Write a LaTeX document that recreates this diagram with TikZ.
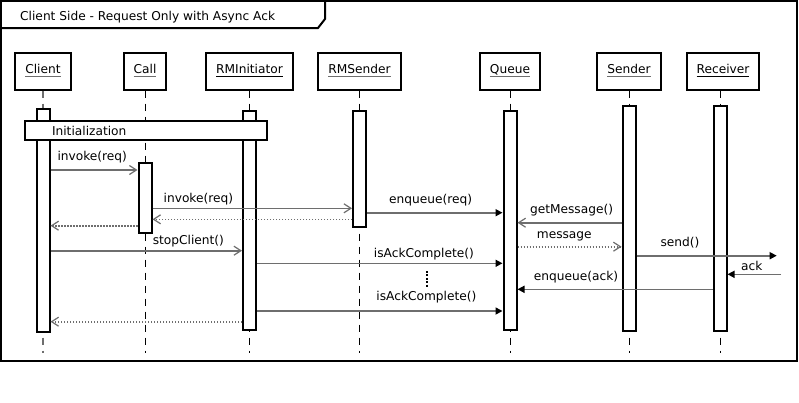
\documentclass[tikz,border=0pt]{standalone}
\usepackage{fontspec}
\setmainfont{DejaVu Sans}
\usetikzlibrary{arrows.meta,positioning}
\definecolor{msggray}{HTML}{6E6E6E}
\newsavebox\lnbox
\newcommand{\lifename}[2][msggray]{\sbox\lnbox{#2}\rlap{\textcolor{#1}{\rule[-3.5pt]{\wd\lnbox}{1.6pt}}}\usebox\lnbox}

\begin{document}
\begin{tikzpicture}[x=1pt,y=-1pt,
    every node/.style={font=\fontsize{12.2pt}{14pt}\selectfont},
    head/.style={draw,line width=2pt,fill=white,minimum height=37pt,inner xsep=10pt},
    actbar/.style={draw,line width=2pt,fill=white,minimum width=13pt,inner sep=0pt},
    lifeline/.style={line width=1pt,dash pattern=on 7pt off 6pt},
    msg/.style={draw=msggray,line width=1.6pt,-{Straight Barb[length=7pt,width=9pt,line width=1.2pt]}},
    amsg/.style={draw=msggray,line width=1.6pt,-{Triangle[length=7pt,width=7pt,color=black]}},
    ret/.style={msg,dash pattern=on 1.5pt off 1.5pt},
    lbl/.style={inner sep=0pt,above}]
    \useasboundingbox (0,0) rectangle (799,402);
    \fill[white] (0,0) rectangle (799,402);

    % frame
    \draw[line width=2pt] (1,1) rectangle (797,361);
    \draw[line width=2pt] (1,28) -- (318,28) -- (325,19) -- (325,1);
    \node[anchor=base west,inner sep=0pt] (title) at (20,20) {Client Side - Request Only with Async Ack};

    % lifelines
    \node[head] (client) at (43,71)                                {\lifename{Client}};
    \node[head] (call)     [right of=client,node distance=102pt]   {\lifename{Call}};
    \node[head] (rmi)      [right of=call,node distance=104.5pt]   {\lifename[black]{RMInitiator}};
    \node[head] (rms)      [right of=rmi,node distance=110pt]      {\lifename{RMSender}};
    \node[head] (queue)    [right of=rms,node distance=150.5pt]    {\lifename{Queue}};
    \node[head] (sender)   [right of=queue,node distance=119pt]    {\lifename{Sender}};
    \node[head] (receiver) [right of=sender,node distance=94pt]    {\lifename[black]{Receiver}};

    \draw[lifeline,draw=msggray,line width=1.5pt] (client.south) -- (client |- 0,353);
    \foreach \n in {call,rmi,rms,queue,sender}
        \draw[lifeline] (\n.south) -- (\n |- 0,353);
    \draw[lifeline] ([xshift=-3pt]receiver.south) -- ([xshift=-3pt]receiver.south |- 0,353);

    % activations
    \node[actbar,minimum height=223pt] (aclient)   at (client |- 0,220.5)   {};
    \node[actbar,minimum height=70pt]  (acall)     at (call |- 0,198)       {};
    \node[actbar,minimum height=219pt] (armi)      at (rmi |- 0,220.5)      {};
    \node[actbar,minimum height=116pt] (arms)      at (rms |- 0,169)        {};
    \node[actbar,minimum height=219pt] (aqueue)    at (queue |- 0,220.5)    {};
    \node[actbar,minimum height=225pt] (asender)   at (sender |- 0,218.3)   {};
    \node[actbar,minimum height=225pt,xshift=-3pt] (areceiver) at (receiver |- 0,218.3) {};

    \node[draw,line width=2pt,fill=white,anchor=west,minimum height=19pt,inner xsep=27pt,
          inner ysep=0pt,text width=188pt,align=left] (init) at (24,130.5) {Initialization};

    % messages
    \coordinate (sendend) at (776.7,255.7);
    \coordinate (ackstart) at (781,274.3);
    \draw[msg] (aclient.east |- 0,170) -- node[lbl,pos=.48,yshift=6.5pt] {invoke(req)} (acall.west |- 0,170);
    \draw[msg] (acall.east |- 0,208.3) -- node[lbl,pos=.23,yshift=2.6pt] {invoke(req)} (arms.west |- 0,208.3);
    \draw[amsg] (arms.east |- 0,212.7) -- node[lbl,pos=.47,yshift=6pt] {enqueue(req)} (aqueue.west |- 0,212.7);
    \draw[ret] (arms.west |- 0,219.3) -- (acall.east |- 0,219.3);
    \draw[ret] (acall.west |- 0,225.7) -- (aclient.east |- 0,225.7);
    \draw[msg] (asender.west |- 0,222.7) -- node[lbl,pos=.48,yshift=6pt] {getMessage()} (aqueue.east |- 0,222.7);
    \draw[ret] (aqueue.east |- 0,246.7) -- node[lbl,pos=.45,yshift=5pt] {message} (asender.west |- 0,246.7);
    \draw[msg] (aclient.east |- 0,250.7) -- node[lbl,pos=.72,yshift=2.4pt] {stopClient()} (armi.west |- 0,250.7);
    \draw[amsg] (asender.east |- 0,255.7) -- node[lbl,pos=.31,yshift=6.4pt] {send()} (sendend);
    \draw[amsg] (armi.east |- 0,263.3) -- node[lbl,pos=.68,yshift=2.3pt] {isAckComplete()} (aqueue.west |- 0,263.3);
    \draw[amsg] (ackstart) -- node[lbl,pos=.545,yshift=2.6pt] {ack} (areceiver.east |- 0,274.3);
    \draw[amsg] (areceiver.west |- 0,289.3) -- node[lbl,pos=.70,yshift=5pt] {enqueue(ack)} (aqueue.east |- 0,289.3);
    \draw[line width=2pt,dash pattern=on 2pt off 1.4pt] (427,271) -- (427,287);
    \draw[amsg] (armi.east |- 0,311) -- node[lbl,pos=.69,yshift=6.7pt] {isAckComplete()} (aqueue.west |- 0,311);
    \draw[ret] (armi.west |- 0,321.7) -- (aclient.east |- 0,321.7);
\end{tikzpicture}
\end{document}
